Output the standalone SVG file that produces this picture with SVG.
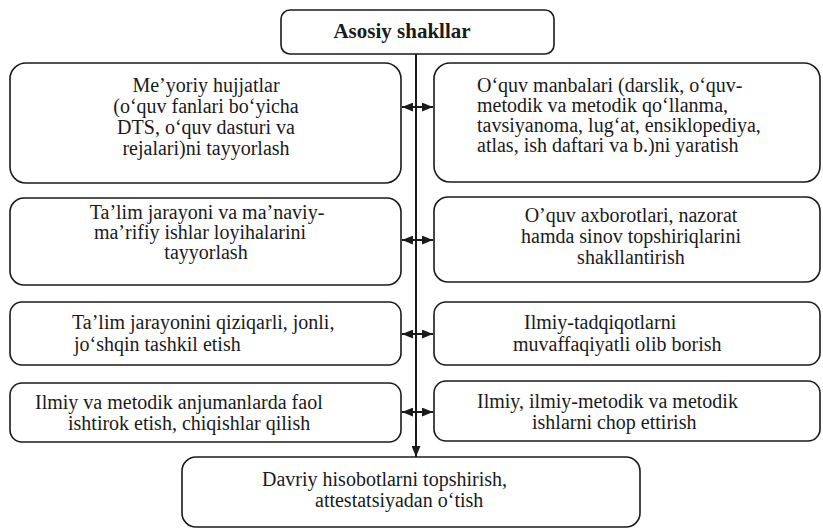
<svg xmlns="http://www.w3.org/2000/svg" width="823" height="529" viewBox="0 0 823 529">
<defs>
<style>
.box{fill:#fff;stroke:#1a1a1a;stroke-width:1.6}
.ln{stroke:#1a1a1a;stroke-width:2;fill:none}
</style>
<marker id="ah" viewBox="0 0 10 8" refX="10" refY="4" markerWidth="11" markerHeight="9" markerUnits="userSpaceOnUse" orient="auto-start-reverse">
<path d="M0,0 L10,4 L0,8 z" fill="#1a1a1a"/>
</marker>
</defs>
<rect width="823" height="529" fill="#fff"/>
<g id="connectors">
<line class="ln" x1="416" y1="54" x2="416" y2="457" marker-end="url(#ah)"/>
<line class="ln" x1="402" y1="107" x2="433" y2="107" marker-start="url(#ah)" marker-end="url(#ah)"/>
<line class="ln" x1="402" y1="240" x2="433" y2="240" marker-start="url(#ah)" marker-end="url(#ah)"/>
<line class="ln" x1="402" y1="334" x2="433" y2="334" marker-start="url(#ah)" marker-end="url(#ah)"/>
<line class="ln" x1="402" y1="412" x2="433" y2="412" marker-start="url(#ah)" marker-end="url(#ah)"/>
</g>
<g id="n0">
<rect class="box" x="281" y="10" width="273" height="44" rx="9"/>
<text font-family="Liberation Serif" font-size="21" font-weight="bold" fill="#1a1a1a" text-anchor="middle" x="402" y="38">Asosiy shakllar</text>
</g>
<g id="n1">
<rect class="box" x="10" y="63" width="391" height="120" rx="16"/>
<text font-family="Liberation Serif" font-size="20" fill="#1a1a1a" text-anchor="middle" x="206" y="92">Me’yoriy hujjatlar</text>
<text font-family="Liberation Serif" font-size="20" fill="#1a1a1a" text-anchor="middle" x="206" y="113">(o‘quv fanlari bo‘yicha</text>
<text font-family="Liberation Serif" font-size="20" fill="#1a1a1a" text-anchor="middle" x="206" y="134">DTS, o‘quv dasturi va</text>
<text font-family="Liberation Serif" font-size="20" fill="#1a1a1a" text-anchor="middle" x="206" y="155">rejalari)ni tayyorlash</text>
</g>
<g id="n2">
<rect class="box" x="434" y="63" width="386" height="119" rx="16"/>
<text font-family="Liberation Serif" font-size="20" fill="#1a1a1a" x="477" y="92">O‘quv manbalari (darslik, o‘quv-</text>
<text font-family="Liberation Serif" font-size="20" fill="#1a1a1a" x="477" y="112">metodik va metodik qo‘llanma,</text>
<text font-family="Liberation Serif" font-size="20" fill="#1a1a1a" x="477" y="132">tavsiyanoma, lug‘at, ensiklopediya,</text>
<text font-family="Liberation Serif" font-size="20" fill="#1a1a1a" x="477" y="152">atlas, ish daftari va b.)ni yaratish</text>
</g>
<g id="n3">
<rect class="box" x="10" y="198" width="391" height="87" rx="14"/>
<text font-family="Liberation Serif" font-size="20" fill="#1a1a1a" text-anchor="middle" x="207" y="219">Ta’lim jarayoni va ma’naviy-</text>
<text font-family="Liberation Serif" font-size="20" fill="#1a1a1a" text-anchor="middle" x="200" y="239">ma’rifiy ishlar loyihalarini</text>
<text font-family="Liberation Serif" font-size="20" fill="#1a1a1a" text-anchor="middle" x="206" y="259">tayyorlash</text>
</g>
<g id="n4">
<rect class="box" x="434" y="197" width="386" height="85" rx="14"/>
<text font-family="Liberation Serif" font-size="20" fill="#1a1a1a" text-anchor="middle" x="631" y="222">O’quv axborotlari, nazorat</text>
<text font-family="Liberation Serif" font-size="20" fill="#1a1a1a" text-anchor="middle" x="631" y="243">hamda sinov topshiriqlarini</text>
<text font-family="Liberation Serif" font-size="20" fill="#1a1a1a" text-anchor="middle" x="631" y="264">shakllantirish</text>
</g>
<g id="n5">
<rect class="box" x="10" y="302" width="391" height="63" rx="12"/>
<text font-family="Liberation Serif" font-size="20" fill="#1a1a1a" x="72" y="329">Ta’lim jarayonini qiziqarli, jonli,</text>
<text font-family="Liberation Serif" font-size="20" fill="#1a1a1a" x="74" y="351">jo‘shqin tashkil etish</text>
</g>
<g id="n6">
<rect class="box" x="434" y="302" width="386" height="63" rx="12"/>
<text font-family="Liberation Serif" font-size="20" fill="#1a1a1a" x="524" y="329">Ilmiy-tadqiqotlarni</text>
<text font-family="Liberation Serif" font-size="20" fill="#1a1a1a" x="513" y="351">muvaffaqiyatli olib borish</text>
</g>
<g id="n7">
<rect class="box" x="10" y="383" width="391" height="59" rx="12"/>
<text font-family="Liberation Serif" font-size="20" fill="#1a1a1a" x="35" y="409">Ilmiy va metodik anjumanlarda faol</text>
<text font-family="Liberation Serif" font-size="20" fill="#1a1a1a" x="68" y="430">ishtirok etish, chiqishlar qilish</text>
</g>
<g id="n8">
<rect class="box" x="434" y="381" width="386" height="60" rx="12"/>
<text font-family="Liberation Serif" font-size="20" fill="#1a1a1a" x="477" y="408">Ilmiy, ilmiy-metodik va metodik</text>
<text font-family="Liberation Serif" font-size="20" fill="#1a1a1a" x="532" y="429">ishlarni chop ettirish</text>
</g>
<g id="n9">
<rect class="box" x="182" y="457" width="458" height="70" rx="14"/>
<text font-family="Liberation Serif" font-size="20" fill="#1a1a1a" x="262" y="486">Davriy hisobotlarni topshirish,</text>
<text font-family="Liberation Serif" font-size="20" fill="#1a1a1a" x="315" y="507">attestatsiyadan o‘tish</text>
</g>
</svg>
